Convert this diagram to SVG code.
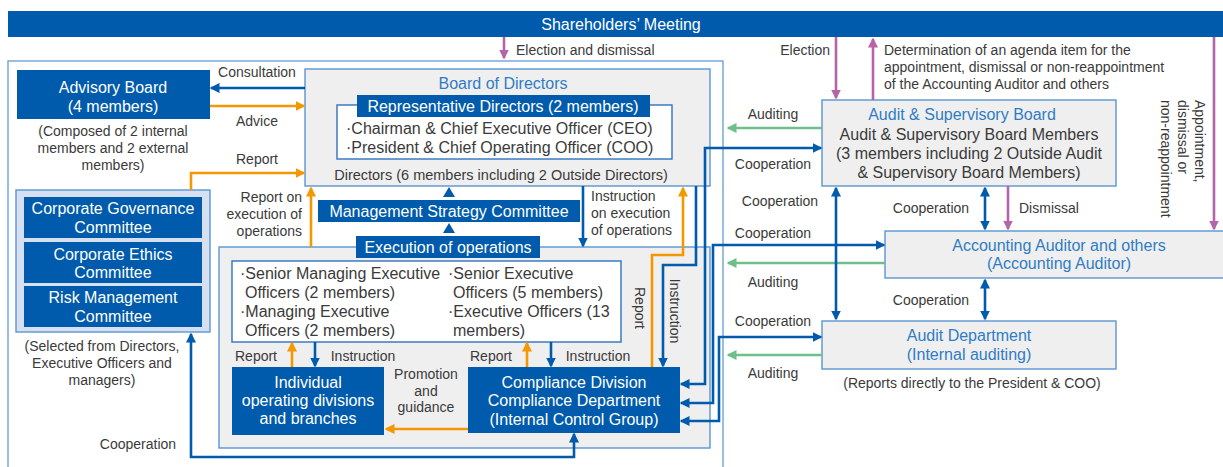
<svg xmlns="http://www.w3.org/2000/svg" width="1223" height="467" viewBox="0 0 1223 467">
  <style>
    text { font-family: "Liberation Sans", Arial, sans-serif; }
    .lbl { font-size: 14px; fill: #3a3a3a; }
    .lbl-c { font-size: 14px; fill: #3a3a3a; text-anchor: middle; }
    .wt { font-size: 16px; fill: #ffffff; text-anchor: middle; }
    .bt { font-size: 16px; fill: #2f7cc6; text-anchor: middle; }
    .dk { font-size: 16px; fill: #3a3a3a; }
    .dk-c { font-size: 16px; fill: #3a3a3a; text-anchor: middle; }
    .solid { fill: #005bac; }
    .panel { fill: #efefef; stroke: #5a96d2; stroke-width: 1.4; }
    .inner { fill: #ffffff; stroke: #2f72c0; stroke-width: 1.4; }
    .frame { fill: none; stroke: #6ea3d8; stroke-width: 1.4; }
    .ln { fill: none; stroke-width: 2.6; }
    .blue { stroke: #005bac; }
    .orange { stroke: #f39800; }
    .green { stroke: #6fbf8a; }
    .pink { stroke: #b565a7; }
  </style>
  <defs>
    <marker id="ah-blue" viewBox="0 0 10 10" refX="8.5" refY="5" markerWidth="10" markerHeight="11" markerUnits="userSpaceOnUse" orient="auto-start-reverse">
      <path d="M0,0 L10,5 L0,10 z" fill="#005bac"/>
    </marker>
    <marker id="ah-orange" viewBox="0 0 10 10" refX="8.5" refY="5" markerWidth="10" markerHeight="11" markerUnits="userSpaceOnUse" orient="auto-start-reverse">
      <path d="M0,0 L10,5 L0,10 z" fill="#f39800"/>
    </marker>
    <marker id="ah-green" viewBox="0 0 10 10" refX="8.5" refY="5" markerWidth="10" markerHeight="11" markerUnits="userSpaceOnUse" orient="auto-start-reverse">
      <path d="M0,0 L10,5 L0,10 z" fill="#6fbf8a"/>
    </marker>
    <marker id="ah-pink" viewBox="0 0 10 10" refX="8.5" refY="5" markerWidth="10" markerHeight="11" markerUnits="userSpaceOnUse" orient="auto-start-reverse">
      <path d="M0,0 L10,5 L0,10 z" fill="#b565a7"/>
    </marker>
  </defs>

  <rect width="1223" height="467" fill="#ffffff"/>

  <!-- Shareholders' Meeting bar -->
  <g id="shareholders-meeting">
    <rect class="solid" x="8" y="11" width="1220" height="26"/>
    <text class="wt" x="621" y="30">Shareholders’ Meeting</text>
  </g>

  <!-- company frame -->
  <rect id="company-frame" class="frame" x="8" y="61" width="715" height="420"/>

  <g id="advisory-board">
    <rect class="solid" x="17" y="70" width="193" height="49"/>
    <text class="wt" x="113" y="92.5">Advisory Board</text>
    <text class="wt" x="113" y="111.5">(4 members)</text>
    <text class="lbl-c" x="113" y="136">(Composed of 2 internal</text>
    <text class="lbl-c" x="113" y="153">members and 2 external</text>
    <text class="lbl-c" x="113" y="170">members)</text>
  </g>

  <g id="board-of-directors">
    <rect class="panel" x="305" y="69" width="405" height="117"/>
    <text class="bt" x="503" y="88.5">Board of Directors</text>
    <rect class="inner" x="337" y="105" width="335" height="54"/>
    <rect class="solid" x="357" y="95" width="293" height="22"/>
    <text class="wt" x="503" y="111.5">Representative Directors (2 members)</text>
    <text class="dk" x="346" y="133.5">·Chairman &amp; Chief Executive Officer (CEO)</text>
    <text class="dk" x="346" y="152.5">·President &amp; Chief Operating Officer (COO)</text>
    <text class="dk-c" x="501" y="179.5" style="font-size:14.5px">Directors (6 members including 2 Outside Directors)</text>
  </g>

  <g id="management-strategy-committee">
    <rect class="solid" x="318" y="200" width="262" height="22"/>
    <text class="wt" x="449" y="216.5">Management Strategy Committee</text>
    <path class="solid" d="M443,197 L455,197 L449,187 z"/>
    <path class="solid" d="M443,233 L455,233 L449,223 z"/>
  </g>

  <g id="execution-of-operations">
    <rect class="panel" x="219" y="247" width="491" height="201"/>
    <rect class="solid" x="356" y="236" width="184" height="22"/>
    <text class="wt" x="448" y="252.5">Execution of operations</text>
    <rect class="inner" x="232" y="261" width="389" height="81"/>
    <text class="dk" x="240" y="278.5">·Senior Managing Executive</text>
    <text class="dk" x="245" y="297.5">Officers (2 members)</text>
    <text class="dk" x="240" y="316.5">·Managing Executive</text>
    <text class="dk" x="245" y="335.5">Officers (2 members)</text>
    <text class="dk" x="448" y="278.5">·Senior Executive</text>
    <text class="dk" x="453" y="297.5">Officers (5 members)</text>
    <text class="dk" x="448" y="316.5">·Executive Officers (13</text>
    <text class="dk" x="453" y="335.5">members)</text>
  </g>

  <g id="operating-divisions">
    <rect class="solid" x="232" y="367" width="152" height="68"/>
    <text class="wt" x="308" y="387.5">Individual</text>
    <text class="wt" x="308" y="405.5">operating divisions</text>
    <text class="wt" x="308" y="423.5">and branches</text>
  </g>

  <g id="compliance-division">
    <rect class="solid" x="468" y="367" width="212" height="66"/>
    <text class="wt" x="574" y="387.5">Compliance Division</text>
    <text class="wt" x="574" y="405.5">Compliance Department</text>
    <text class="wt" x="574" y="424.5">(Internal Control Group)</text>
  </g>

  <g id="committees">
    <rect x="16" y="190" width="194" height="142" fill="#d6e0f1" stroke="#5a96d2" stroke-width="1.4"/>
    <rect class="solid" x="24" y="197" width="178" height="41"/>
    <rect class="solid" x="24" y="242" width="178" height="41"/>
    <rect class="solid" x="24" y="286" width="178" height="41"/>
    <text class="wt" x="113" y="213.5">Corporate Governance</text>
    <text class="wt" x="113" y="232.5">Committee</text>
    <text class="wt" x="113" y="259.5">Corporate Ethics</text>
    <text class="wt" x="113" y="277.5">Committee</text>
    <text class="wt" x="113" y="302.5">Risk Management</text>
    <text class="wt" x="113" y="321.5">Committee</text>
    <text class="lbl-c" x="102" y="351">(Selected from Directors,</text>
    <text class="lbl-c" x="102" y="368">Executive Officers and</text>
    <text class="lbl-c" x="102" y="385">managers)</text>
  </g>

  <g id="audit-supervisory-board">
    <rect class="panel" x="822" y="100" width="294" height="86"/>
    <text class="bt" x="962" y="119.5">Audit &amp; Supervisory Board</text>
    <text class="dk-c" x="969" y="139.5">Audit &amp; Supervisory Board Members</text>
    <text class="dk-c" x="969" y="158.5">(3 members including 2 Outside Audit</text>
    <text class="dk-c" x="969" y="177.5">&amp; Supervisory Board Members)</text>
  </g>

  <g id="accounting-auditor">
    <rect class="panel" x="885" y="231" width="345" height="47"/>
    <text class="bt" x="1059" y="250.5">Accounting Auditor and others</text>
    <text class="bt" x="1059" y="268.5">(Accounting Auditor)</text>
  </g>

  <g id="audit-department">
    <rect class="panel" x="822" y="321" width="294" height="48"/>
    <text class="bt" x="969" y="340.5">Audit Department</text>
    <text class="bt" x="969" y="359.5">(Internal auditing)</text>
    <text class="lbl-c" x="972" y="388">(Reports directly to the President &amp; COO)</text>
  </g>

  <!-- connectors -->
  <g id="connectors">
    <!-- shareholders' meeting -->
    <path class="ln pink" d="M504,37 V58" marker-end="url(#ah-pink)"/>
    <path class="ln pink" d="M836,37 V98" marker-end="url(#ah-pink)"/>
    <path class="ln pink" d="M873,100 V39" marker-end="url(#ah-pink)"/>
    <path class="ln pink" d="M1214,37 V229" marker-end="url(#ah-pink)"/>
    <path class="ln pink" d="M1008,186 V229" marker-end="url(#ah-pink)"/>

    <!-- advisory board -->
    <path class="ln blue" d="M305,88 H211" marker-end="url(#ah-blue)"/>
    <path class="ln orange" d="M210,106 H304" marker-end="url(#ah-orange)"/>

    <!-- committees -->
    <path class="ln orange" d="M191,190 V173 H304" marker-end="url(#ah-orange)"/>
    <path class="ln blue" d="M191,334 V457 H574 V434" marker-start="url(#ah-blue)" marker-end="url(#ah-blue)"/>

    <!-- execution to board -->
    <path class="ln orange" d="M311,247 V188" marker-end="url(#ah-orange)"/>
    <path class="ln blue" d="M583,186 V246" marker-end="url(#ah-blue)"/>

    <!-- officers to divisions -->
    <path class="ln orange" d="M292,367 V343" marker-end="url(#ah-orange)"/>
    <path class="ln blue" d="M315,342 V366" marker-end="url(#ah-blue)"/>
    <path class="ln orange" d="M527,367 V343" marker-end="url(#ah-orange)"/>
    <path class="ln blue" d="M551,342 V366" marker-end="url(#ah-blue)"/>
    <path class="ln orange" d="M468,429 H386" marker-end="url(#ah-orange)"/>

    <!-- compliance and board -->
    <path class="ln orange" d="M652,367 V255 H683 V188" marker-end="url(#ah-orange)"/>
    <path class="ln blue" d="M696,186 V265 H663 V366" marker-end="url(#ah-blue)"/>

    <!-- cooperation with the audit side -->
    <path class="ln blue" d="M681,384 H705 V148 H821" marker-start="url(#ah-blue)" marker-end="url(#ah-blue)"/>
    <path class="ln blue" d="M681,403 H713 V245 H884" marker-start="url(#ah-blue)" marker-end="url(#ah-blue)"/>
    <path class="ln blue" d="M681,421 H719 V337 H821" marker-start="url(#ah-blue)" marker-end="url(#ah-blue)"/>

    <!-- auditing -->
    <path class="ln green" d="M822,128 H728" marker-end="url(#ah-green)"/>
    <path class="ln green" d="M885,263 H728" marker-end="url(#ah-green)"/>
    <path class="ln green" d="M822,355 H728" marker-end="url(#ah-green)"/>

    <!-- audit side cooperation -->
    <path class="ln blue" d="M836,188 V319" marker-start="url(#ah-blue)" marker-end="url(#ah-blue)"/>
    <path class="ln blue" d="M985,188 V229" marker-start="url(#ah-blue)" marker-end="url(#ah-blue)"/>
    <path class="ln blue" d="M985,280 V319" marker-start="url(#ah-blue)" marker-end="url(#ah-blue)"/>
  </g>

  <!-- connector labels -->
  <g id="labels">
    <text class="lbl" x="516" y="55">Election and dismissal</text>
    <text class="lbl" x="830" y="55" text-anchor="end">Election</text>
    <text class="lbl" x="884" y="55">Determination of an agenda item for the</text>
    <text class="lbl" x="884" y="72">appointment, dismissal or non-reappointment</text>
    <text class="lbl" x="884" y="89">of the Accounting Auditor and others</text>
    <text class="lbl" transform="translate(1195,100) rotate(90)">Appointment,</text>
    <text class="lbl" transform="translate(1178,100) rotate(90)">dismissal or</text>
    <text class="lbl" transform="translate(1161,100) rotate(90)">non-reappointment</text>
    <text class="lbl-c" x="257" y="77">Consultation</text>
    <text class="lbl-c" x="257" y="126">Advice</text>
    <text class="lbl-c" x="257" y="164">Report</text>
    <text class="lbl" x="302" y="202" text-anchor="end">Report on</text>
    <text class="lbl" x="302" y="219" text-anchor="end">execution of</text>
    <text class="lbl" x="302" y="236" text-anchor="end">operations</text>
    <text class="lbl" x="591" y="201">Instruction</text>
    <text class="lbl" x="591" y="218">on execution</text>
    <text class="lbl" x="591" y="235">of operations</text>
    <text class="lbl-c" transform="translate(635,308) rotate(90)">Report</text>
    <text class="lbl-c" transform="translate(670,311) rotate(90)">Instruction</text>
    <text class="lbl-c" x="256" y="361">Report</text>
    <text class="lbl-c" x="363" y="361">Instruction</text>
    <text class="lbl-c" x="491" y="361">Report</text>
    <text class="lbl-c" x="598" y="361">Instruction</text>
    <text class="lbl-c" x="426" y="379">Promotion</text>
    <text class="lbl-c" x="426" y="396">and</text>
    <text class="lbl-c" x="426" y="412">guidance</text>
    <text class="lbl-c" x="138" y="449">Cooperation</text>
    <text class="lbl-c" x="773" y="119">Auditing</text>
    <text class="lbl-c" x="773" y="169">Cooperation</text>
    <text class="lbl-c" x="780" y="206">Cooperation</text>
    <text class="lbl-c" x="773" y="238">Cooperation</text>
    <text class="lbl-c" x="773" y="287">Auditing</text>
    <text class="lbl-c" x="773" y="326">Cooperation</text>
    <text class="lbl-c" x="773" y="378">Auditing</text>
    <text class="lbl-c" x="931" y="213">Cooperation</text>
    <text class="lbl" x="1019" y="213">Dismissal</text>
    <text class="lbl-c" x="931" y="305">Cooperation</text>
  </g>
</svg>
